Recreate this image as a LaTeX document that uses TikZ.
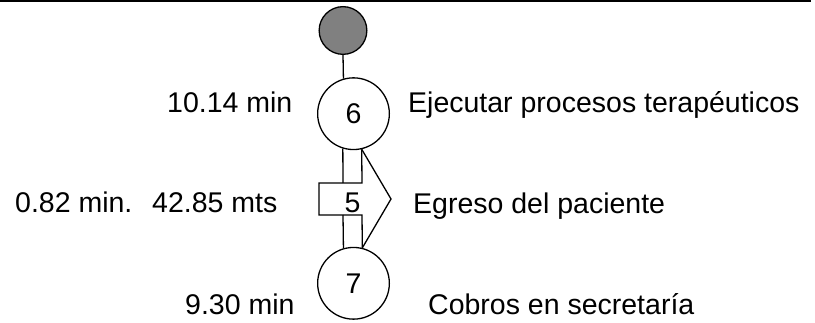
\documentclass[tikz,border=0pt]{standalone}
\usepackage{fontspec}
\setmainfont{Liberation Sans}
\begin{document}
\begin{tikzpicture}[x=1pt,y=-1pt,
  txt/.style={inner sep=0pt, anchor=base west, font=\fontsize{28.5}{34}\selectfont},
  num/.style={inner sep=0pt, font=\fontsize{28.5}{34}\selectfont},
  opcircle/.style={circle, draw, line width=1.3pt, fill=white, minimum size=71.7pt,
    inner sep=0pt, font=\fontsize{28.5}{34}\selectfont},
  startcircle/.style={circle, draw, line width=1.3pt, fill={rgb,255:red,128;green,128;blue,128},
    minimum size=47.7pt, inner sep=0pt},
  ln/.style={line width=1.3pt, line join=miter}]
\useasboundingbox (0,0) rectangle (815,323);

% top rule
\draw[line width=2pt] (0,1) -- (811,1);

% start symbol and the two operations
\node[startcircle] (start) at (343,30.5) {};
\node[opcircle] (op6) at (353.5,113.7) {6};
\node[opcircle] (op7) at (353.5,283.3) {7};

% start line
\draw[ln] (start.south) -- (op6.106.7);

% transport symbol between the two operations
\draw[ln] (op6.253.3) -- (343,183);
\draw[ln] (op6.283.5) -- (362,183) -- (319,183) -- (319,215) -- (362,215) -- (op7.76.5);
\draw[ln] (343,215) -- (op7.106.7);
\draw[ln] (op6.283.5) -- (391,199) -- (op7.76.5);
\node[num] (t5) at (352.5,203) {5};

% labels
\node[txt] (time6) at (167,113) {10.14 min};
\node[txt] (desc6) at (408,113) {Ejecutar procesos terapéuticos};
\node[txt] (time5) at (15,213) {0.82 min.};
\node[txt] (dist5) at (152,213) {42.85 mts};
\node[txt] (desc5) at (413,214) {Egreso del paciente};
\node[txt] (time7) at (185,315) {9.30 min};
\node[txt] (desc7) at (428,315) {Cobros en secretaría};
\end{tikzpicture}
\end{document}
